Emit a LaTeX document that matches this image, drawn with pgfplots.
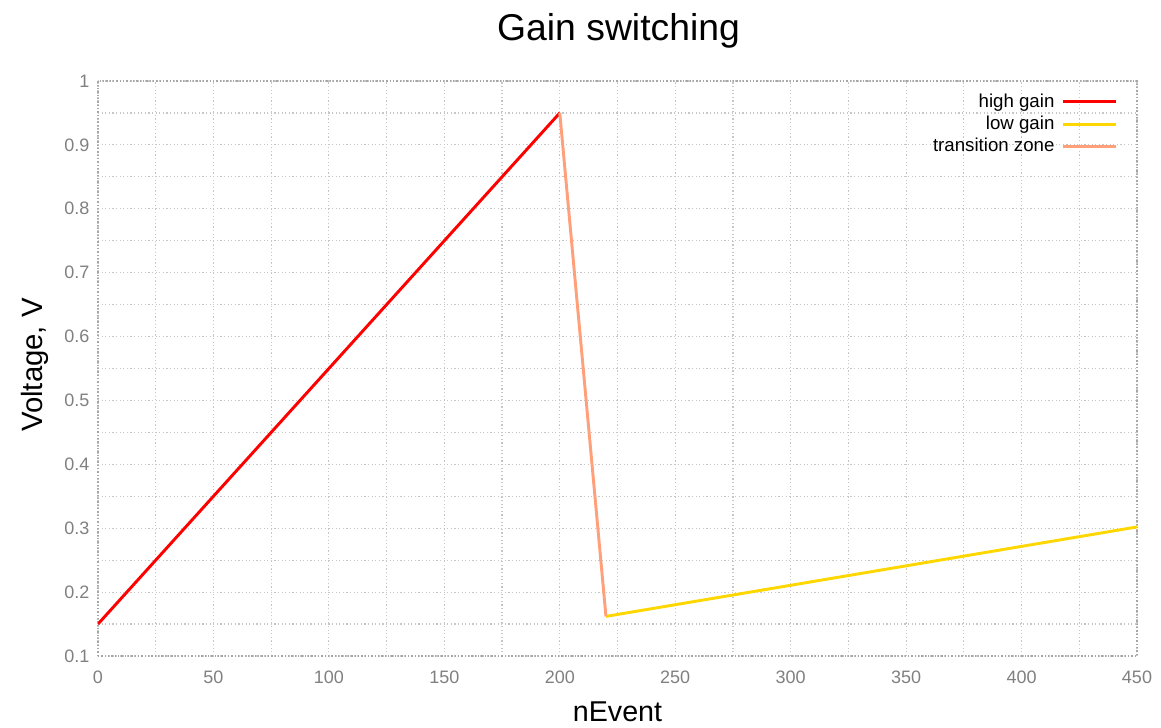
\documentclass[border=0pt]{standalone}
\usepackage{pgfplots}
\pgfplotsset{compat=1.18}
\usepackage{fontspec}
\setmainfont{Liberation Sans}
\definecolor{hg}{RGB}{255,0,0}
\definecolor{lg}{RGB}{255,215,0}
\definecolor{tz}{RGB}{255,160,122}
\definecolor{tickgray}{RGB}{128,128,128}
\begin{document}
\begin{tikzpicture}
\begin{axis}[
  scale only axis,
  width=779.25pt, height=431.25pt,
  xmin=0, xmax=450, ymin=0.1, ymax=1,
  xtick={0,50,...,450},
  ytick={0.1,0.2,0.3,0.4,0.5,0.6,0.7,0.8,0.9,1},
  yticklabels={0.1,0.2,0.3,0.4,0.5,0.6,0.7,0.8,0.9,1},
  minor x tick num=1, minor y tick num=1,
  grid=both,
  major grid style={draw=gray!45, line width=0.9pt, dash pattern=on 0.9pt off 1.8pt},
  minor grid style={draw=gray!45, line width=0.9pt, dash pattern=on 0.9pt off 1.8pt},
  axis line style={draw=gray!70, line width=1pt, dash pattern=on 1pt off 1.5pt},
  major tick length=0pt, minor tick length=0pt,
  tick label style={font=\fontsize{13.5}{16}\selectfont, text=tickgray},
  /pgf/number format/assume math mode=true,
  xticklabel style={yshift=-8pt},
  yticklabel style={xshift=-3pt},
  title={Gain switching},
  title style={font=\fontsize{28}{32}\selectfont, at={(axis description cs:0.501,1.073)}, anchor=center},
  xlabel={nEvent},
  xlabel style={font=\fontsize{21.5}{25}\selectfont, at={(axis description cs:0.5,-0.097)}, anchor=center},
  ylabel={Voltage, V},
  ylabel style={font=\fontsize{22}{25}\selectfont, at={(axis description cs:-0.0606,0.506)}, anchor=center, rotate=0},
  legend style={draw=none, fill=none, at={(axis description cs:0.985,0.987)}, anchor=north east,
     font=\fontsize{14}{16}\selectfont, row sep=1pt, column sep=3pt, legend cell align=right},
  legend plot pos=right,
  legend image post style={line width=2.2pt},
  legend image code/.code={\draw[#1] (0cm,0cm) -- (1.4cm,0cm);},
]
\addplot[hg, line width=2.2pt] coordinates {(0,0.15) (200,0.95)};
\addlegendentry{high gain}
\addplot[lg, line width=2.2pt] coordinates {(220,0.162) (450,0.302)};
\addlegendentry{low gain}
\addplot[tz, line width=2.2pt] coordinates {(200,0.95) (220,0.162)};
\addlegendentry{transition zone}
\end{axis}
\pgfresetboundingbox
\path[use as bounding box] (current axis.south west) ++(-73.5pt,-54pt) rectangle ++(870.75pt,546pt);
\end{tikzpicture}
\end{document}
